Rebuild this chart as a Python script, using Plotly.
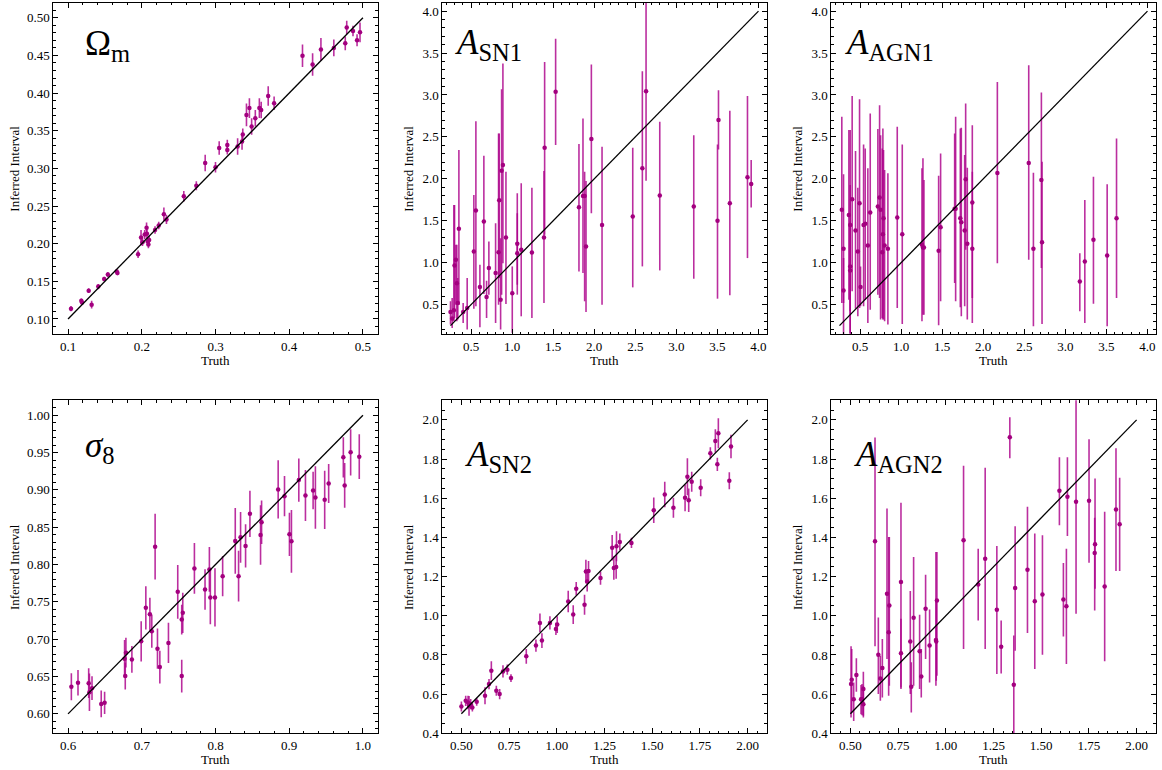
import plotly.graph_objects as go

# ---------------- data ----------------
# Panel 1: Omega_m (symmetric errors)
om_truth = [0.104, 0.118, 0.119, 0.128, 0.132, 0.141, 0.149, 0.154, 0.166, 0.167,
            0.195, 0.199, 0.201, 0.204, 0.2065, 0.207, 0.208, 0.210, 0.209, 0.218,
            0.223, 0.230, 0.2335, 0.257, 0.274, 0.286, 0.300, 0.305, 0.316, 0.316,
            0.330, 0.336, 0.337, 0.342, 0.346, 0.349, 0.354, 0.3595, 0.362, 0.3715,
            0.3795, 0.418, 0.4317, 0.443, 0.4605, 0.476, 0.478, 0.4865, 0.492, 0.496]
om_pred = [0.1137, 0.124, 0.122, 0.1376, 0.119, 0.143, 0.153, 0.159, 0.163, 0.161,
           0.186, 0.208, 0.202, 0.212, 0.221, 0.213, 0.203, 0.205, 0.199, 0.218,
           0.224, 0.239, 0.232, 0.263, 0.277, 0.307, 0.3015, 0.327, 0.331, 0.3245,
           0.329, 0.3356, 0.345, 0.371, 0.380, 0.3555, 0.3665, 0.380, 0.3776, 0.396,
           0.3864, 0.4496, 0.438, 0.458, 0.460, 0.466, 0.487, 0.4823, 0.470, 0.4806]
om_err = [0.0035, 0.003, 0.003, 0.003, 0.005, 0.0035, 0.003, 0.0035, 0.003, 0.003,
          0.005, 0.010, 0.005, 0.006, 0.007, 0.006, 0.006, 0.005, 0.005, 0.005,
          0.005, 0.009, 0.006, 0.007, 0.006, 0.011, 0.007, 0.009, 0.007, 0.006,
          0.011, 0.011, 0.008, 0.015, 0.013, 0.011, 0.011, 0.013, 0.011, 0.013,
          0.009, 0.015, 0.015, 0.015, 0.011, 0.009, 0.009, 0.007, 0.008, 0.013]

# Panel 2: A_SN1 (asymmetric intervals)
sn1_truth = [0.25, 0.27, 0.291, 0.299, 0.315, 0.327, 0.339, 0.352, 0.404, 0.453,
             0.534, 0.559, 0.608, 0.656, 0.689, 0.717, 0.799, 0.835, 0.843, 0.860,
             0.872, 0.888, 0.925, 1.002, 1.063, 1.063, 1.111, 1.241, 1.388, 1.396,
             1.530, 1.814, 1.863, 1.883, 1.900, 1.965, 2.095, 2.469, 2.586, 2.631,
             2.798, 3.212, 3.501, 3.513, 3.651, 3.866, 3.911]
sn1_pred = [0.413, 0.334, 0.433, 0.968, 1.035, 0.754, 0.520, 1.404, 0.413, 0.460,
            1.134, 1.622, 0.710, 1.491, 0.591, 0.936, 0.877, 1.126, 1.745, 0.559,
            2.097, 2.165, 1.301, 0.635, 1.225, 1.114, 1.154, 1.122, 1.301, 2.371,
            3.037, 1.661, 1.796, 1.796, 1.194, 2.474, 1.451, 1.550, 2.125, 3.045,
            1.800, 1.669, 1.499, 2.700, 1.709, 2.018, 1.939]
sn1_hi = [0.540, 0.579, 1.689, 1.689, 1.213, 1.213, 0.817, 2.343, 0.520, 0.817,
          1.808, 2.688, 0.976, 2.276, 0.785, 1.253, 1.471, 2.541, 2.541, 1.293,
          3.068, 3.374, 2.085, 0.956, 1.828, 1.590, 1.947, 1.895, 2.093, 3.393,
          3.671, 2.414, 2.720, 2.085, 1.974, 3.362, 2.383, 2.371, 3.282, 4.300,
          2.680, 2.521, 2.410, 3.056, 2.811, 2.989, 2.224]
sn1_lo = [0.262, 0.223, 0.302, 0.341, 0.500, 0.302, 0.322, 0.500, 0.282, 0.203,
          0.452, 0.480, 0.230, 0.627, 0.341, 0.619, 0.282, 0.500, 0.817, 0.203,
          0.619, 0.995, 0.508, 0.163, 0.619, 0.738, 0.361, 0.341, 0.520, 1.332,
          2.402, 0.896, 0.877, 0.540, 0.413, 1.590, 0.500, 0.706, 0.956, 1.978,
          0.908, 0.809, 0.571, 2.351, 0.611, 1.055, 1.657]

# Panel 3: A_AGN1
agn1_truth = [0.278, 0.299, 0.299, 0.364, 0.380, 0.380, 0.380, 0.404, 0.445, 0.473,
              0.494, 0.506, 0.543, 0.563, 0.595, 0.624, 0.717, 0.738, 0.750, 0.770,
              0.778, 0.786, 0.799, 0.839, 0.953, 1.014, 1.254, 1.266, 1.278, 1.457,
              1.481, 1.652, 1.664, 1.721, 1.733, 1.774, 1.786, 1.806, 1.867, 1.867,
              2.172, 2.554, 2.611, 2.708, 2.716, 3.176, 3.237, 3.342, 3.509, 3.623]
agn1_pred = [1.630, 1.166, 0.670, 1.570, 1.450, 0.956, 0.908, 1.756, 1.384, 1.134,
             1.709, 0.710, 1.450, 1.463, 1.205, 1.600, 1.670, 1.776, 1.630, 1.126,
             1.340, 1.530, 1.205, 1.166, 1.538, 1.340, 1.213, 1.182, 1.180, 1.142,
             1.423, 1.642, 1.642, 1.530, 1.483, 1.384, 1.994, 1.225, 1.717, 1.166,
             2.070, 2.190, 1.166, 1.986, 1.245, 0.777, 1.015, 1.273, 1.087, 1.530]
agn1_hi = [2.739, 2.054, 1.055, 2.581, 2.581, 1.927, 1.491, 2.989, 2.331, 1.895,
           2.949, 0.956, 2.410, 2.363, 2.125, 2.779, 2.593, 2.878, 2.521, 2.363,
           2.601, 2.343, 2.105, 2.066, 2.620, 2.410, 2.125, 2.244, 1.986, 2.038,
           2.303, 2.541, 2.739, 2.601, 2.609, 2.284, 2.898, 2.133, 2.640, 2.085,
           3.156, 3.354, 2.074, 3.029, 2.204, 1.114, 1.749, 2.026, 1.935, 2.482]
agn1_lo = [0.520, 0.520, 0.143, 0.559, 0.421, 0.163, 0.104, 0.659, 0.452, 0.361,
           0.460, 0.480, 0.480, 0.559, 0.282, 0.440, 0.619, 0.579, 0.322, 0.341,
           0.322, 0.322, 0.302, 0.262, 0.460, 0.270, 0.302, 0.381, 0.381, 0.254,
           0.540, 0.758, 0.540, 0.468, 0.361, 0.480, 1.154, 0.322, 0.579, 0.282,
           0.995, 1.035, 0.242, 0.936, 0.270, 0.421, 0.282, 0.512, 0.242, 0.579]

# Panel 4: sigma_8 (symmetric errors)
s8_truth = [0.6045, 0.6135, 0.628, 0.629, 0.6325, 0.645, 0.6496, 0.6767, 0.6776, 0.6785,
            0.6866, 0.6992, 0.7055, 0.711, 0.7136, 0.7181, 0.7213, 0.7245, 0.7362, 0.7488,
            0.7542, 0.7542, 0.7556, 0.7714, 0.7858, 0.7917, 0.793, 0.7993, 0.8097, 0.8268,
            0.8313, 0.834, 0.8408, 0.8467, 0.8611, 0.8625, 0.885, 0.8936, 0.9003, 0.903,
            0.913, 0.922, 0.9324, 0.9355, 0.9481, 0.9535, 0.9734, 0.9752, 0.9833, 0.995]
s8_pred = [0.6363, 0.6417, 0.6412, 0.629, 0.6345, 0.6134, 0.6148, 0.674, 0.6506, 0.682,
           0.673, 0.6972, 0.742, 0.7335, 0.7106, 0.824, 0.6873, 0.6627, 0.695, 0.7635,
           0.7263, 0.6506, 0.7353, 0.7948, 0.7666, 0.7935, 0.7559, 0.7559, 0.7845, 0.8316,
           0.7845, 0.8365, 0.8249, 0.8679, 0.8396, 0.8567, 0.9006, 0.8916, 0.8405, 0.8311,
           0.9131, 0.8925, 0.8992, 0.8898, 0.8867, 0.9086, 0.9436, 0.906, 0.9503, 0.9445]
s8_err = [0.018, 0.017, 0.020, 0.025, 0.016, 0.018, 0.015, 0.025, 0.018, 0.020,
          0.018, 0.027, 0.029, 0.022, 0.022, 0.044, 0.027, 0.022, 0.027, 0.036,
          0.020, 0.022, 0.027, 0.034, 0.027, 0.030, 0.036, 0.039, 0.027, 0.044,
          0.034, 0.034, 0.029, 0.031, 0.040, 0.029, 0.039, 0.027, 0.029, 0.042,
          0.029, 0.034, 0.025, 0.042, 0.039, 0.026, 0.027, 0.030, 0.031, 0.030]

# Panel 5: A_SN2 (symmetric errors)
sn2_truth = [0.500, 0.5227, 0.5349, 0.5401, 0.5488, 0.5576, 0.5802, 0.6238, 0.6448, 0.657,
             0.6832, 0.7006, 0.718, 0.7407, 0.7599, 0.8401, 0.8907, 0.9117, 0.9221, 0.964,
             0.9954, 1.0023, 1.0599, 1.0861, 1.1018, 1.1454, 1.1524, 1.1593, 1.1663, 1.2291,
             1.2902, 1.2989, 1.3111, 1.3128, 1.3303, 1.3913, 1.5082, 1.5658, 1.6111, 1.6722,
             1.6844, 1.6913, 1.707, 1.7541, 1.8047, 1.8309, 1.8414, 1.8466, 1.9041, 1.9129]
sn2_pred = [0.5368, 0.5659, 0.5573, 0.5402, 0.5488, 0.5317, 0.5607, 0.5915, 0.6512, 0.7195,
            0.6171, 0.600, 0.7161, 0.7246, 0.682, 0.7929, 0.8476, 0.9637, 0.8732, 0.9637,
            0.9329, 0.9551, 1.0729, 1.0063, 1.1378, 1.0559, 1.2266, 1.1754, 1.2283, 1.1925,
            1.3478, 1.2437, 1.2488, 1.3547, 1.3769, 1.3717, 1.5391, 1.6193, 1.551, 1.6022,
            1.7098, 1.5903, 1.6842, 1.6535, 1.8293, 1.8924, 1.773, 1.9318, 1.6893, 1.8641]
sn2_err = [0.026, 0.026, 0.034, 0.050, 0.026, 0.020, 0.020, 0.043, 0.026, 0.048,
           0.026, 0.026, 0.031, 0.026, 0.020, 0.038, 0.031, 0.048, 0.038, 0.034,
           0.031, 0.043, 0.055, 0.048, 0.034, 0.051, 0.060, 0.051, 0.051, 0.034,
           0.065, 0.060, 0.060, 0.077, 0.043, 0.026, 0.065, 0.065, 0.051, 0.068,
           0.094, 0.060, 0.051, 0.043, 0.031, 0.060, 0.034, 0.077, 0.043, 0.060]

# Panel 6: A_AGN2 (asymmetric intervals)
agn2_truth = [0.5035, 0.507, 0.5174, 0.5314, 0.5558, 0.5611, 0.568, 0.568, 0.6291, 0.6465,
              0.657, 0.6675, 0.6919, 0.7006, 0.7041, 0.7651, 0.7651, 0.814, 0.8192, 0.8314,
              0.8628, 0.8715, 0.8942, 0.9151, 0.9483, 0.950, 0.9535, 1.0931, 1.1698, 1.2064,
              1.2675, 1.2902, 1.3355, 1.3564, 1.3634, 1.428, 1.4663, 1.5065, 1.5954, 1.6163,
              1.632, 1.6373, 1.6826, 1.7506, 1.7803, 1.7821, 1.8326, 1.8919, 1.9111]
agn2_pred = [0.6512, 0.6734, 0.5744, 0.6973, 0.5744, 0.5744, 0.6256, 0.5488, 1.3803, 0.8015,
             0.6802, 0.7332, 1.1122, 0.9159, 1.0524, 1.172, 0.8083, 0.8681, 0.6376, 0.9893,
             0.8185, 0.6905, 1.0354, 0.8476, 0.8766, 0.8681, 1.0781, 1.3854, 1.160, 1.2915,
             1.0303, 0.8424, 1.9113, 0.6478, 1.1412, 1.2351, 1.0747, 1.1088, 1.6381, 1.0832,
             1.049, 1.6073, 1.5817, 1.5869, 1.3205, 1.3649, 1.1498, 1.5425, 1.4673]
agn2_hi = [0.8442, 0.8305, 0.6598, 0.7827, 0.6461, 0.6512, 0.7144, 0.6427, 1.9096, 0.991,
           0.7963, 0.8817, 1.5476, 1.4025, 1.4025, 1.5766, 0.9842, 1.1259, 0.7622, 1.300,
           1.0046, 0.8305, 1.2095, 1.032, 1.3256, 1.0866, 1.3256, 1.7661, 1.3427, 1.7559,
           1.3564, 0.9756, 2.0137, 0.8988, 1.4571, 1.5561, 1.4195, 1.411, 1.8088, 1.2693,
           1.3427, 1.8088, 2.300, 1.901, 1.4998, 1.7012, 1.5305, 1.8549, 1.7047]
agn2_lo = [0.4805, 0.5061, 0.4634, 0.612, 0.4976, 0.4924, 0.4805, 0.489, 0.8442, 0.600,
           0.5659, 0.5829, 0.7793, 0.5915, 0.6427, 0.6341, 0.6256, 0.600, 0.5061, 0.6427,
           0.6256, 0.5829, 0.7793, 0.6598, 0.6427, 0.6683, 0.6939, 0.8305, 0.9756, 0.8305,
           0.7024, 0.7059, 1.8037, 0.3951, 0.822, 0.9124, 0.7281, 0.8015, 1.4622, 0.8937,
           0.7537, 1.4076, 1.0098, 1.271, 1.0268, 1.1378, 0.7673, 1.2283, 1.2283]

# parameter prior bounds (diagonal line ends)
line_lo = [0.1, 0.25, 0.25, 0.6, 0.5, 0.5]
line_hi = [0.5, 4.0, 4.0, 1.0, 2.0, 2.0]

labels = ["Ω<sub>m</sub>", "<i>A</i><sub>SN1</sub>", "<i>A</i><sub>AGN1</sub>",
          "<i>σ</i><sub>8</sub>", "<i>A</i><sub>SN2</sub>", "<i>A</i><sub>AGN2</sub>"]

# ---------------- styling ----------------
W, H = 1162, 770
HEFF = 762.0   # effective rendered height used for vertical placement
FONT = "Liberation Serif"
MARK = "#a3007f"
BAR = "rgba(172,0,138,0.82)"

cols = [(53.3, 377.7), (442.3, 766.7), (831.3, 1155.7)]
rows = [(2.7, 334.0), (400.3, 733.3)]

xr = [[0.08, 0.52], [0.15, 4.1], [0.15, 4.1], [0.58, 1.02], [0.4, 2.1], [0.4, 2.1]]
yr = [[0.08, 0.52], [0.15, 4.1], [0.15, 4.1], [0.574, 1.02], [0.4, 2.1], [0.4, 2.1]]
xt = [(0.1, 0.1, ".1f", 0.02), (0.5, 0.5, ".1f", 0.1), (0.5, 0.5, ".1f", 0.1),
      (0.6, 0.1, ".1f", 0.02), (0.5, 0.25, ".2f", 0.05), (0.5, 0.25, ".2f", 0.05)]
yt = [(0.1, 0.05, ".2f", 0.01), (0.5, 0.5, ".1f", 0.1), (0.5, 0.5, ".1f", 0.1),
      (0.6, 0.05, ".2f", 0.01), (0.4, 0.2, ".1f", 0.05), (0.4, 0.2, ".1f", 0.05)]
lab_pos = [(0.092, 0.872), (0.033, 0.875), (0.035, 0.875),
           (0.091, 0.857), (0.064, 0.830), (0.064, 0.830)]
ytitle_off = [39, 34, 34, 39, 34, 34]

series = [
    (om_truth, om_pred, om_err, om_err),
    (sn1_truth, sn1_pred, [h - p for h, p in zip(sn1_hi, sn1_pred)], [p - l for p, l in zip(sn1_pred, sn1_lo)]),
    (agn1_truth, agn1_pred, [h - p for h, p in zip(agn1_hi, agn1_pred)], [p - l for p, l in zip(agn1_pred, agn1_lo)]),
    (s8_truth, s8_pred, s8_err, s8_err),
    (sn2_truth, sn2_pred, sn2_err, sn2_err),
    (agn2_truth, agn2_pred, [h - p for h, p in zip(agn2_hi, agn2_pred)], [p - l for p, l in zip(agn2_pred, agn2_lo)]),
]

fig = go.Figure()
layout = dict(width=W, height=H, autosize=False, margin=dict(l=0, r=0, t=0, b=0, pad=0),
              paper_bgcolor="white", plot_bgcolor="white", showlegend=False,
              font=dict(family=FONT, size=13, color="black"))
annotations = []

for i in range(6):
    r, c = divmod(i, 3)
    n = "" if i == 0 else str(i + 1)
    xa, ya = "x" + n, "y" + n
    x0, x1 = cols[c]
    y0, y1 = rows[r]
    pw, ph = x1 - x0, y1 - y0
    axcommon = dict(showgrid=False, zeroline=False, showline=True, linecolor="black",
                    linewidth=1, mirror="allticks", ticks="inside", ticklen=5,
                    tickwidth=1, tickcolor="black",
                    tickfont=dict(family=FONT, size=13, color="black"))
    layout["xaxis" + n] = dict(axcommon, domain=[x0 / W, x1 / W], range=xr[i],
                               anchor=ya, tick0=xt[i][0], dtick=xt[i][1], tickformat=xt[i][2],
                               minor=dict(ticks="inside", ticklen=2.5, dtick=xt[i][3],
                                          tick0=xt[i][0], tickcolor="black", showgrid=False))
    layout["yaxis" + n] = dict(axcommon, domain=[1 - y1 / HEFF, 1 - y0 / HEFF], range=yr[i],
                               anchor=xa, tick0=yt[i][0], dtick=yt[i][1], tickformat=yt[i][2],
                               minor=dict(ticks="inside", ticklen=2.5, dtick=yt[i][3],
                                          tick0=yt[i][0], tickcolor="black", showgrid=False))
    tx, py, ehi, elo = series[i]
    fig.add_trace(go.Scatter(x=tx, y=py, mode="markers", xaxis=xa, yaxis=ya,
                             marker=dict(color=MARK, size=4.5),
                             error_y=dict(type="data", symmetric=False, array=ehi,
                                          arrayminus=elo, color=BAR, thickness=1.6, width=0)))
    fig.add_trace(go.Scatter(x=[line_lo[i], line_hi[i]], y=[line_lo[i], line_hi[i]],
                             mode="lines", xaxis=xa, yaxis=ya,
                             line=dict(color="black", width=1.3)))
    annotations.append(dict(text=labels[i], xref=xa + " domain", yref=ya + " domain",
                            x=lab_pos[i][0], y=lab_pos[i][1], xanchor="left", yanchor="middle",
                            showarrow=False, font=dict(family=FONT, size=35, color="black")))
    annotations.append(dict(text="Truth", xref=xa + " domain", yref=ya + " domain",
                            x=0.5, y=-26 / ph, xanchor="center", yanchor="middle",
                            showarrow=False, font=dict(family=FONT, size=13, color="black")))
    annotations.append(dict(text="Inferred Interval", xref=xa + " domain", yref=ya + " domain",
                            x=-ytitle_off[i] / pw, y=0.5, xanchor="center", yanchor="middle",
                            textangle=-90, showarrow=False,
                            font=dict(family=FONT, size=13, color="black")))

layout["annotations"] = annotations
fig.update_layout(**layout)
fig.write_html("out.html", config={"displayModeBar": False, "responsive": False},
               post_script="document.body.style.margin='0';")
